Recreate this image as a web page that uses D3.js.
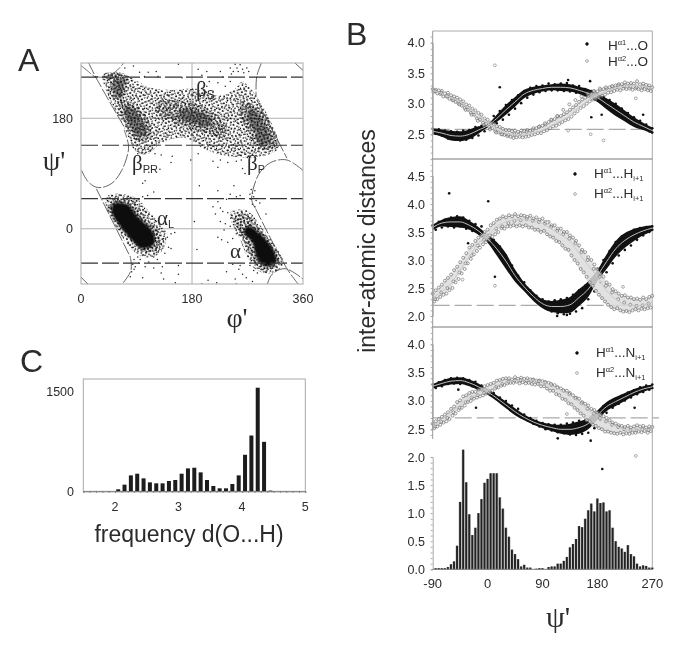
<!DOCTYPE html>
<html><head><meta charset="utf-8">
<script src="https://cdn.jsdelivr.net/npm/d3@7"></script>
<style>
html,body{margin:0;background:#fff}
svg{display:block;filter:blur(.35px)}
text{font-family:"Liberation Sans",Arial,sans-serif;fill:#2b2b2b}
.gr{font-family:"Liberation Serif","DejaVu Serif",serif}
</style></head><body><svg id="c" width="685" height="649"></svg>
<script>
/* ---------- Panel A ---------- */
const ramaTicksX=[0,180,360], ramaTicksY=[0,180], ramaDash=[247,136,49,-56];
const ramaSolid=[
 [[52,40],[74,40],[92,20],[118,-8],[118,-26],[98,-32],[80,-16],[62,6],[50,26]],
 [[270,4],[288,-6],[312,-34],[316,-56],[296,-60],[284,-44],[278,-22],[264,-6]]];
const ramaCore=[
 [[55,243],[70,245],[70,230],[63,214],[53,222]],
 [[272,196],[291,182],[307,140],[291,137],[279,164],[270,178]],
 [[70,200],[85,196],[103,170],[106,155],[93,150],[78,170]],
 [[160,192],[190,192],[212,176],[208,166],[182,172],[160,180]]];
const ramaHigh=[
 [[45,252],[75,250],[72,225],[66,205],[50,215]],
 [[62,208],[90,202],[112,172],[114,150],[92,142],[72,168]],
 [[125,208],[160,208],[190,203],[218,186],[236,165],[228,148],[200,156],[175,163],[150,172],[125,188]],
 [[262,208],[295,190],[318,136],[288,130],[270,160],[258,182]],
 [[50,46],[82,46],[103,18],[128,-8],[124,-34],[104,-38],[84,-22],[60,8],[46,34]],
 [[250,20],[266,24],[295,-8],[322,-54],[309,-66],[285,-60],[268,-26]]];
const ramaLow=[
 [[36,252],[72,250],[112,230],[145,226],[190,228],[225,216],[250,228],[262,240],[285,215],[320,132],[290,118],[240,118],[200,130],[170,148],[130,140],[110,122],[90,125],[70,165],[38,232]],
 [[44,54],[85,52],[112,26],[138,-12],[128,-40],[100,-46],[78,-28],[54,8],[40,38]],
 [[242,26],[268,30],[298,-5],[328,-56],[310,-72],[283,-66],[258,-18]]];
const ramaPoints=[[85,265],[95,255],[109,255],[122,256],[71,262],[158,268],[190,260],[204,256],[226,256],[242,262],[247,256],[258,267],[255,256],[264,254],[272,256],[269,262],[250,268],[244,252],[262,260],[253,262],[103,248],[125,248],[164,246],[196,250],[230,247],
[92,122],[100,124],[96,116],[112,128],[120,122],[130,120],[146,108],[148,118],[128,97],[110,92],[104,78],[100,74],[178,112],[190,122],[214,110],[226,112],[238,108],[252,110],[260,112],[270,116],[222,100],[262,98],[266,90],[226,216],[214,222],[204,232],[195,240],[222,238],[234,232],[242,240],[208,240],
[248,70],[276,64],[278,58],[280,52],[276,48],[282,62],[274,56],[284,46],[278,40],[282,36],[192,70],[222,62],[242,56],[252,52],[258,54],[236,48],[222,44],[226,34],[230,28],[238,26],[214,36],[218,24],[226,12],[234,8],[242,4],[232,-2],[222,-14],[228,-18],[238,-22],[246,-16],[252,-8],[188,-34],[184,12],[290,42],[300,24],[274,-60],[280,-68],[286,-72],[292,-66],[300,-70],[256,-66],[262,-74],[268,-80],[278,-86],[250,-82],[252,-90],[236,-70],[246,-58],[258,-60],[258,16],[256,6],[252,-2],[260,-6],[248,12],[244,18],
[196,-90],[206,-84],[220,-88],[130,-72],[134,-82],[158,-60],[158,-74],[153,-88],[132,-62],[118,-46],[124,-50],[136,-40],[142,-30],[128,-30],[146,-8],[152,-6],[134,-16],[130,-24],[126,-36],[136,-4],[134,8],[128,4],[122,12],[116,16],[110,24],[104,28],[96,30],[94,48],[100,52],[108,54],[118,60],[140,-14],[146,-32],
[92,-46],[86,-50],[84,-58],[88,-62],[94,-56],[96,-50],[82,-70],[86,-66],[100,-80],[80,-78],[104,-62],[110,-54],[118,-64],[88,40],[90,46]];

/* ---------- Panel C ---------- */
const freqBins=[2.05,2.15,2.25,2.35,2.45,2.55,2.65,2.75,2.85,2.95,3.05,3.15,3.25,3.35,3.45,3.55,3.65,3.75,3.85,3.95,4.05,4.15,4.25,4.35,4.45];
const freqValues=[30,100,240,265,195,135,120,120,155,170,265,345,355,285,170,80,45,45,110,240,550,840,1560,745,10];

/* ---------- Panel B: means every 15 deg from -90 ---------- */
const psi15=[-90,-75,-60,-45,-30,-15,0,15,30,45,60,75,90,105,120,135,150,165,180,195,210,225,240,255,270];
const o1Mean=[2.55,2.52,2.48,2.47,2.50,2.57,2.64,2.76,2.90,3.03,3.16,3.22,3.25,3.27,3.27,3.26,3.22,3.17,3.10,3.00,2.90,2.80,2.70,2.63,2.56];
const o1Half=[.05,.06,.08,.08,.08,.06,.03,.06,.08,.08,.07,.06,.05,.05,.06,.06,.06,.07,.07,.09,.1,.09,.08,.06,.05];
const o2Mean=[3.22,3.17,3.10,3.03,2.92,2.82,2.68,2.58,2.52,2.49,2.49,2.52,2.57,2.64,2.72,2.80,2.93,3.05,3.14,3.20,3.26,3.29,3.30,3.29,3.25];
const h1Mean=[3.58,3.66,3.68,3.68,3.62,3.52,3.38,3.20,2.98,2.72,2.52,2.35,2.22,2.17,2.17,2.20,2.33,2.48,2.72,2.97,3.20,3.35,3.45,3.52,3.57];
const h1Half=[.05,.06,.09,.1,.08,.07,.07,.12,.14,.11,.08,.08,.08,.1,.12,.14,.15,.14,.1,.13,.14,.13,.11,.08,.05];
const h2Mean=[2.32,2.43,2.58,2.82,3.06,3.30,3.42,3.60,3.68,3.72,3.72,3.70,3.65,3.55,3.45,3.33,3.12,2.90,2.70,2.45,2.30,2.20,2.18,2.20,2.25];
const n1Mean=[3.26,3.31,3.35,3.36,3.32,3.25,3.16,3.05,2.93,2.81,2.71,2.63,2.57,2.53,2.50,2.50,2.53,2.60,2.75,2.90,2.99,3.07,3.15,3.21,3.25];
const n1Half=[.04,.05,.06,.06,.06,.06,.05,.05,.06,.06,.05,.05,.05,.06,.08,.1,.11,.1,.08,.08,.08,.07,.06,.05,.04];
const n2Mean=[2.55,2.67,2.81,2.93,3.05,3.11,3.17,3.27,3.33,3.36,3.37,3.36,3.33,3.27,3.19,3.10,2.98,2.84,2.73,2.63,2.55,2.50,2.48,2.49,2.49];

/* open-circle clouds: upper/lower edges every 5 deg, middle row every 10 deg */
const o2Up=[3.24,3.23,3.22,3.21,3.17,3.18,3.14,3.12,3.10,3.07,3.04,2.99,2.97,2.92,2.89,2.85,2.82,2.76,2.74,2.69,2.67,2.63,2.62,2.59,2.57,2.57,2.55,2.56,2.54,2.56,2.55,2.57,2.56,2.60,2.60,2.63,2.64,2.66,2.70,2.73,2.75,2.79,2.80,2.83,2.86,2.90,2.94,2.98,3.03,3.07,3.10,3.13,3.17,3.20,3.20,3.23,3.24,3.25,3.27,3.28,3.30,3.32,3.32,3.35,3.33,3.34,3.33,3.37,3.32,3.33,3.31,3.30,3.27];
const o2Lo=[3.20,3.17,3.16,3.12,3.12,3.08,3.06,3.03,3.00,2.97,2.93,2.90,2.85,2.82,2.76,2.74,2.69,2.67,2.62,2.60,2.55,2.53,2.50,2.49,2.47,2.46,2.44,2.45,2.46,2.45,2.46,2.47,2.49,2.50,2.52,2.52,2.55,2.57,2.60,2.63,2.64,2.67,2.70,2.73,2.75,2.79,2.84,2.88,2.93,2.96,3.00,3.04,3.07,3.08,3.11,3.13,3.15,3.18,3.19,3.21,3.23,3.22,3.25,3.24,3.25,3.23,3.25,3.24,3.22,3.24,3.22,3.21,3.22];
const o2Mid=[3.21,3.18,3.12,3.06,2.99,2.90,2.82,2.72,2.65,2.58,2.53,2.50,2.49,2.50,2.52,2.54,2.57,2.62,2.68,2.74,2.80,2.90,2.99,3.06,3.12,3.17,3.21,3.25,3.27,3.29,3.30,3.29,3.28,3.27,3.28,3.26,3.25];
const h2Up=[2.40,2.46,2.51,2.56,2.63,2.68,2.74,2.82,2.88,2.96,3.04,3.12,3.22,3.27,3.34,3.40,3.44,3.50,3.54,3.62,3.66,3.72,3.74,3.78,3.76,3.80,3.78,3.82,3.78,3.80,3.79,3.77,3.79,3.74,3.76,3.72,3.74,3.68,3.68,3.62,3.62,3.56,3.56,3.50,3.50,3.44,3.40,3.34,3.26,3.18,3.14,3.05,3.00,2.92,2.84,2.76,2.70,2.60,2.56,2.48,2.44,2.40,2.36,2.37,2.33,2.33,2.30,2.31,2.29,2.33,2.30,2.34,2.36];
const h2Lo=[2.26,2.30,2.34,2.38,2.40,2.46,2.50,2.60,2.66,2.76,2.84,2.94,3.02,3.10,3.16,3.22,3.28,3.32,3.36,3.42,3.46,3.50,3.57,3.56,3.60,3.60,3.62,3.60,3.62,3.60,3.62,3.58,3.58,3.54,3.54,3.50,3.52,3.46,3.42,3.40,3.34,3.32,3.26,3.20,3.18,3.08,3.00,2.94,2.84,2.78,2.70,2.60,2.54,2.45,2.38,2.32,2.26,2.20,2.16,2.12,2.14,2.10,2.08,2.09,2.07,2.10,2.12,2.10,2.13,2.12,2.14,2.15,2.20];
const h2Mid=[2.30,2.42,2.50,2.62,2.78,2.94,3.08,3.26,3.36,3.44,3.56,3.60,3.66,3.70,3.71,3.73,3.70,3.68,3.65,3.59,3.52,3.46,3.38,3.30,3.14,3.00,2.84,2.70,2.54,2.42,2.30,2.24,2.20,2.18,2.19,2.22,2.25];
const n2Up=[2.60,2.64,2.68,2.72,2.76,2.80,2.86,2.90,2.98,3.01,3.08,3.10,3.14,3.16,3.16,3.20,3.22,3.26,3.28,3.30,3.32,3.36,3.37,3.39,3.40,3.40,3.38,3.42,3.39,3.41,3.39,3.40,3.38,3.38,3.36,3.36,3.35,3.33,3.32,3.28,3.28,3.24,3.22,3.18,3.18,3.14,3.10,3.06,3.04,2.98,2.95,2.92,2.86,2.84,2.80,2.76,2.73,2.70,2.66,2.62,2.60,2.57,2.56,2.54,2.56,2.53,2.55,2.57,2.55,2.56,2.53,2.55,2.54];
const n2Lo=[2.52,2.55,2.58,2.62,2.64,2.68,2.74,2.78,2.84,2.88,2.92,2.98,3.00,3.04,3.06,3.08,3.10,3.13,3.14,3.18,3.22,3.24,3.27,3.28,3.31,3.32,3.32,3.34,3.31,3.33,3.31,3.32,3.30,3.29,3.30,3.26,3.26,3.22,3.18,3.18,3.12,3.10,3.04,3.02,2.96,2.94,2.88,2.84,2.78,2.74,2.66,2.64,2.58,2.56,2.52,2.50,2.46,2.46,2.44,2.43,2.42,2.44,2.41,2.43,2.42,2.44,2.44,2.46,2.45,2.47,2.44,2.47,2.46];
const n2Mid=[2.55,2.63,2.70,2.80,2.88,2.98,3.06,3.10,3.14,3.17,3.25,3.30,3.34,3.36,3.37,3.36,3.37,3.35,3.33,3.30,3.24,3.19,3.12,3.05,2.96,2.86,2.78,2.70,2.64,2.58,2.54,2.50,2.49,2.48,2.50,2.49,2.49];

/* black point edges every 10 deg from -90 */
const o1Up=[2.59,2.58,2.56,2.55,2.54,2.56,2.57,2.62,2.64,2.67,2.80,2.88,2.98,3.06,3.14,3.21,3.26,3.29,3.30,3.33,3.32,3.33,3.34,3.30,3.29,3.24,3.21,3.17,3.11,3.06,3.00,2.92,2.85,2.78,2.72,2.66,2.60];
const o1Lo=[2.51,2.48,2.43,2.42,2.40,2.41,2.44,2.48,2.55,2.62,2.68,2.74,2.82,2.92,3.01,3.10,3.15,3.19,3.21,3.22,3.22,3.21,3.20,3.18,3.17,3.13,3.08,3.03,2.95,2.88,2.81,2.75,2.71,2.63,2.60,2.55,2.53];
const h1Up=[3.62,3.68,3.72,3.76,3.78,3.76,3.70,3.64,3.60,3.45,3.36,3.24,3.08,2.90,2.72,2.60,2.46,2.36,2.30,2.26,2.28,2.30,2.32,2.38,2.46,2.54,2.66,2.84,3.00,3.16,3.32,3.42,3.48,3.54,3.57,3.59,3.60];
const h1Lo=[3.54,3.58,3.60,3.58,3.60,3.56,3.52,3.48,3.40,3.30,3.16,3.02,2.86,2.70,2.56,2.44,2.32,2.24,2.14,2.08,2.05,2.03,2.04,2.08,2.14,2.30,2.44,2.60,2.78,2.94,3.08,3.18,3.26,3.36,3.44,3.50,3.54];
const n1Up=[3.29,3.33,3.37,3.40,3.41,3.40,3.37,3.34,3.27,3.20,3.14,3.06,3.00,2.92,2.86,2.76,2.70,2.65,2.61,2.59,2.58,2.58,2.60,2.62,2.65,2.68,2.72,2.80,2.91,2.98,3.04,3.09,3.15,3.19,3.24,3.27,3.29];
const n1Lo=[3.23,3.26,3.30,3.31,3.30,3.30,3.26,3.20,3.16,3.11,3.03,2.96,2.88,2.79,2.72,2.66,2.60,2.55,2.50,2.48,2.45,2.43,2.41,2.40,2.42,2.44,2.52,2.66,2.79,2.88,2.95,3.01,3.06,3.12,3.16,3.20,3.23];

const o1Out=[[20,3.27],[168,3.37],[170,2.78],[187,2.82],[132,3.39],[255,2.82]];
const o2Out=[[12,3.63],[169,2.5],[190,2.4],[243,3.09],[132,2.56]];
const h1Out=[[-63,4.19],[1,4.05],[12,2.7],[-32,3.3],[114,2.0],[130,2.02]];
const h2Out=[[12,2.54],[-41,2.65],[98,3.67],[222,2.52]];
const n1Out=[[-48,3.2],[-19,2.88],[115,2.34],[169,2.3],[241,2.88],[188,1.8]];
const n2Out=[[243,2.03],[130,2.77]];

/* lower histogram: bins every 5 deg from -85 */
const psiBins=[-85,-80,-75,-70,-65,-60,-55,-50,-45,-40,-35,-30,-25,-20,-15,-10,-5,0,5,10,15,20,25,30,35,40,45,50,55,60,65,70,75,80,85,90,95,100,105,110,115,120,125,130,135,140,145,150,155,160,165,170,175,180,185,190,195,200,205,210,215,220,225,230,235,240,245,250,255,260,265,270];
const psiFreq=[.02,.02,.02,.02,.04,.09,.14,.42,1.2,2.13,1.55,.98,.61,.74,1.0,1.25,1.54,1.61,1.71,1.71,1.71,1.28,1.08,.74,.58,.35,.27,.18,.05,.08,.03,.03,0,.01,.02,.02,0,.04,.05,.05,.1,.1,.15,.22,.39,.45,.54,.77,.75,.9,1.05,1.17,1.03,1.26,1.18,1.19,1.03,1.05,.74,.5,.4,.37,.31,.43,.27,.23,.1,.05,.07,.06,.03,.03];

/* ---------- drawing ---------- */
const svg=d3.select("#c");
const GREY="#a9a9a9";
function box(x0,y0,x1,y1,c=GREY){svg.append("rect").attr("x",x0).attr("y",y0).attr("width",x1-x0).attr("height",y1-y0).attr("fill","none").attr("stroke",c);}
function styleAxis(g,c="#888"){g.selectAll("path").attr("stroke",c);g.selectAll("line").attr("stroke",c);}
function label(t,x,y,s,o={}){const e=svg.append("text").attr("x",x).attr("y",y).attr("font-size",s).attr("text-anchor",o.a||"start").text(t);if(o.cls)e.attr("class",o.cls);return e;}

/* stipple textures and soft edge */
const defs=svg.append("defs");
const tile=[[1,2],[4.3,1],[8,3.4],[11.5,.6],[15,2.2],[19.4,1],[22,3.3],[2.4,5.2],[6,6.5],[10.2,5],[13,7.4],[17.3,4.7],[21,6.2],[.3,8.4],[4,9.3],[8.4,8],[12,10.4],[15.4,9],[19,8.2],[23,9.6],[2,12.4],[6.4,11],[10,13.3],[14.2,12],[18,11.3],[21.3,13],[1,15.2],[5,14.3],[8.2,16.4],[12.4,15],[16,15.6],[20,16.2],[23.2,15],[3.3,18],[7,19.2],[11,18],[14.3,18.4],[18.2,19],[22,19.3]];
[["s0",0],["s1",37],["s2",71],["s3",-52]].forEach(([id,rot])=>{
  const p=defs.append("pattern").attr("id",id).attr("patternUnits","userSpaceOnUse").attr("width",24).attr("height",20).attr("patternTransform",`rotate(${rot})`);
  p.selectAll("circle").data(tile).join("circle").attr("cx",d=>d[0]).attr("cy",d=>d[1]).attr("r",.8).attr("fill","#0a0a0a");
});
defs.append("filter").attr("id","soft").append("feGaussianBlur").attr("stdDeviation",1.1);

/* A */
const ax=d3.scaleLinear().domain([0,360]).range([81,303]);
const ay=d3.scaleLinear().domain([-90,270]).range([284,63]);
svg.append("line").attr("x1",ax(180)).attr("x2",ax(180)).attr("y1",63).attr("y2",284).attr("stroke","#b0b0b0");
ramaTicksY.forEach(v=>svg.append("line").attr("x1",81).attr("x2",303).attr("y1",ay(v)).attr("y2",ay(v)).attr("stroke","#b0b0b0"));
svg.append("clipPath").attr("id","ca").append("rect").attr("x",81).attr("y",63).attr("width",222).attr("height",221);
const gA=svg.append("g").attr("clip-path","url(#ca)");
const poly=d3.line().x(d=>ax(d[0])).y(d=>ay(d[1])).curve(d3.curveCatmullRomClosed);
ramaLow.forEach(r=>gA.append("path").attr("d",poly(r)).attr("fill","url(#s0)"));
ramaLow.forEach(r=>gA.append("path").attr("d",poly(r)).attr("fill","url(#s1)"));
ramaHigh.forEach(r=>["s2","s3"].forEach(s=>gA.append("path").attr("d",poly(r)).attr("fill",`url(#${s})`)));
ramaCore.forEach(r=>gA.append("path").attr("d",poly(r)).attr("fill","#222").attr("opacity",.5).attr("filter","url(#soft)"));
ramaSolid.forEach(r=>gA.append("path").attr("d",poly(r)).attr("fill","#0c0c0c").attr("filter","url(#soft)"));
gA.selectAll("circle").data(ramaPoints).join("circle").attr("cx",d=>ax(d[0])).attr("cy",d=>ay(d[1])).attr("r",.75).attr("fill","#222");
const bounds=[
 [[1,95],[12,76],[28,67],[50,74],[66,95],[76,123],[77,136],[70,161]],
 [[12,271],[25,245],[71,164]],
 [[23,248],[36,247],[55,255],[70,271]],
 [[25,65],[80,-46]],
 [[80,-46],[81,-68],[66,-91]],
 [[0,-79],[12,-91]],
 [[0,266],[12,256],[25,245]],
 [[293,271],[285,248],[284,215]],
 [[285,210],[334,115]],
 [[360,95],[334,112],[310,109],[291,93],[280,68],[277,46],[283,33]],
 [[283,33],[334,-65],[353,-91]],
 [[302,-91],[310,-74],[331,-65],[360,-82]],
 [[346,271],[360,258]]];
const bl=d3.line().x(d=>ax(d[0])).y(d=>ay(d[1])).curve(d3.curveCatmullRom);
gA.selectAll(".b").data(bounds).join("path").attr("class","b").attr("d",bl).attr("fill","none").attr("stroke","#555").attr("stroke-width",.9).attr("stroke-dasharray","13 2");
ramaDash.forEach(v=>svg.append("line").attr("x1",81).attr("x2",303).attr("y1",ay(v)).attr("y2",ay(v)).attr("stroke","#333").attr("stroke-width",1.2).attr("stroke-dasharray","17 4"));
box(81,63,303,284);
ramaTicksX.forEach(v=>label(v,ax(v),303,12.5,{a:"middle"}));
ramaTicksY.forEach(v=>label(v,73,ay(v)+4.5,12.5,{a:"end"}));
label("A",18,71,32);label("B",346,45,32);label("C",20,372,32);
label("ψ'",54,170,28,{a:"middle",cls:"gr"});
label("φ'",237,327,28,{a:"middle",cls:"gr"});
function sub(g,s,x,y,z,z2){const t=label(g,x,y,z,{cls:"gr"});t.append("tspan").attr("font-size",z2).attr("dy",3).attr("style",'font-family:"Liberation Sans"').text(s);}
sub("β","S",196,96,21,12);sub("β","PR",132,170,21,11);sub("β","P",247,170,21,11);sub("α","L",157,225,21,11);
label("α",230,258,21,{cls:"gr"});

/* C */
const cx=d3.scaleLinear().domain([1.5,5]).range([83.3,305.3]);
const cy=d3.scaleLinear().domain([0,1500]).range([491.3,391.7]);
box(83.3,379,305.3,491.3);
svg.append("g").selectAll("rect").data(freqValues).join("rect").attr("x",(d,i)=>cx(freqBins[i])-2).attr("width",4).attr("y",d=>cy(d)).attr("height",d=>cy(0)-cy(d)).attr("fill","#1c1c1c");
styleAxis(svg.append("g").attr("transform","translate(0,491.3)").call(d3.axisBottom(cx).tickValues(d3.range(1.5,5.01,.1)).tickSize(1.5).tickFormat("")),"#777");
[2,3,4,5].forEach(v=>label(v,cx(v),511,12.5,{a:"middle"}));
label("1500",74,396,12.5,{a:"end"});label("0",74,495.5,12.5,{a:"end"});
label("frequency d(O...H)",189,542,23,{a:"middle"});

/* B */
const bx=d3.scaleLinear().domain([-90,270]).range([432.7,652.3]);
const panels=[
 {y:d3.scaleLinear().domain([2.5,4]).range([134.3,42.7]),top:31,bot:159,ticks:[2.5,3,3.5,4],ref:2.58,refEnd:270,
  m1:o1Mean,hw:o1Half,m2:o2Mean,up:o2Up,lo:o2Lo,mid:o2Mid,bu:o1Up,bl:o1Lo,out1:o1Out,out2:o2Out},
 {y:d3.scaleLinear().domain([2,4.5]).range([316,176]),top:159,bot:327,ticks:[2,2.5,3,3.5,4,4.5],ref:2.19,refEnd:270,
  m1:h1Mean,hw:h1Half,m2:h2Mean,up:h2Up,lo:h2Lo,mid:h2Mid,bu:h1Up,bl:h1Lo,out1:h1Out,out2:h2Out},
 {y:d3.scaleLinear().domain([2.5,4]).range([429.3,344.3]),top:327,bot:439,ticks:[2.5,3,3.5,4],ref:2.7,refEnd:281,
  m1:n1Mean,hw:n1Half,m2:n2Mean,up:n2Up,lo:n2Lo,mid:n2Mid,bu:n1Up,bl:n1Lo,out1:n1Out,out2:n2Out}];
const hy=d3.scaleLinear().domain([0,2]).range([569.3,457]);

svg.append("line").attr("x1",432.7).attr("x2",652.3).attr("y1",31).attr("y2",31).attr("stroke",GREY);
svg.append("line").attr("x1",652.3).attr("x2",652.3).attr("y1",31).attr("y2",569.3).attr("stroke",GREY);

const gH=svg.append("g");
gH.selectAll(".bg").data(psiFreq).join("rect").attr("class","bg").attr("x",(d,i)=>bx(psiBins[i])-1.5).attr("width",3).attr("y",d=>hy(d)).attr("height",d=>hy(0)-hy(d)).attr("fill","#b5b5b5");
gH.selectAll(".fg").data(psiFreq).join("rect").attr("class","fg").attr("x",(d,i)=>bx(psiBins[i])-1).attr("width",1.9).attr("y",d=>hy(d)).attr("height",d=>hy(0)-hy(d)).attr("fill","#222");
styleAxis(svg.append("g").attr("transform","translate(432.7,0)").call(d3.axisLeft(hy).tickValues(d3.range(0,2.01,.1)).tickSize(2).tickFormat("")),"#aaa");
[0,.5,1,1.5,2].forEach(v=>label(v.toFixed(1),425,hy(v)+4.5,12.5,{a:"end"}));
[-90,0,90,180,270].forEach(v=>label(v,bx(v),588,13,{a:"middle"}));
svg.append("line").attr("x1",432.7).attr("x2",652.3).attr("y1",569.3).attr("y2",569.3).attr("stroke","#777");

panels.forEach((p,k)=>{
  const g=svg.append("g");
  const line=d3.line().x((d,i)=>bx(psi15[i])).y(d=>p.y(d)).curve(d3.curveMonotoneX);
  g.append("line").attr("x1",bx(-90)).attr("x2",bx(p.refEnd)).attr("y1",p.y(p.ref)).attr("y2",p.y(p.ref)).attr("stroke","#aaa").attr("stroke-width",1.2).attr("stroke-dasharray","17 5");
  const area=d3.area().x((d,i)=>bx(psi15[i])).y0((d,i)=>p.y(d-p.hw[i])).y1((d,i)=>p.y(d+p.hw[i])).curve(d3.curveMonotoneX);
  g.append("path").attr("d",area(p.m1)).attr("fill","#111");
  [[p.bu,0],[p.bl,5]].forEach(([vals,off],ri)=>{
    g.selectAll(".bd"+ri).data(vals).join("circle").attr("class","bd"+ri).attr("cx",(d,i)=>bx(Math.min(270,-90+off+10*i))).attr("cy",d=>p.y(d)).attr("r",1.3).attr("fill","#111");
  });
  g.selectAll(".bo").data(p.out1).join("circle").attr("class","bo").attr("cx",d=>bx(d[0])).attr("cy",d=>p.y(d[1])).attr("r",1.3).attr("fill","#111");
  const cloud=d3.area().x((d,i)=>bx(-90+5*i)).y0((d,i)=>p.y(p.lo[i])).y1((d,i)=>p.y(d)).curve(d3.curveMonotoneX);
  g.append("path").attr("d",cloud(p.up)).attr("fill","#dcdcdc").attr("opacity",.85);
  [[p.up,5,0],[p.lo,5,2.5],[p.mid,10,4]].forEach(([vals,step,off],ri)=>{
    const pts=vals.map((v,i)=>[-90+off+step*i,v]).filter(d=>d[0]<=270);
    g.selectAll(".r"+ri).data(pts).join("circle").attr("class","r"+ri).attr("cx",d=>bx(d[0])).attr("cy",d=>p.y(d[1])).attr("r",1.5).attr("fill","#f4f4f4").attr("fill-opacity",.4).attr("stroke","#5e5e5e").attr("stroke-width",.6);
  });
  g.selectAll(".oo").data(p.out2).join("circle").attr("class","oo").attr("cx",d=>bx(d[0])).attr("cy",d=>p.y(d[1])).attr("r",1.4).attr("fill","#fff").attr("stroke","#777").attr("stroke-width",.6);
  g.append("path").attr("d",line(p.m1)).attr("fill","none").attr("stroke","#bdbdbd").attr("stroke-width",1);
  g.append("path").attr("d",line(p.m2)).attr("fill","none").attr("stroke","#c9c9c9").attr("stroke-width",1);
  const dom=[p.y.invert(p.bot),p.y.invert(p.top)];
  const minor=d3.range(Math.ceil(dom[0]*10)/10,dom[1],.1);
  styleAxis(svg.append("g").attr("transform","translate(432.7,0)").call(d3.axisLeft(p.y).tickValues(minor).tickSize(2).tickFormat("")),"#aaa");
  svg.append("line").attr("x1",432.7).attr("x2",432.7).attr("y1",p.top).attr("y2",p.bot).attr("stroke","#999");
  p.ticks.forEach(v=>label(v.toFixed(1),425,p.y(v)+4.5,12.5,{a:"end"}));
  if(k<2)svg.append("line").attr("x1",432.7).attr("x2",652.3).attr("y1",p.bot).attr("y2",p.bot).attr("stroke","#777");
});

function lgTitle(x,y,n,tail,sub2){
  const t=svg.append("text").attr("x",x).attr("y",y).attr("font-size",13.5);
  t.append("tspan").text("H");
  t.append("tspan").attr("font-size",7.5).attr("dy",-5.5).text("α"+n);
  t.append("tspan").attr("dy",5.5).text("..."+tail);
  if(sub2)t.append("tspan").attr("font-size",7.5).attr("dy",2.5).text(sub2);
}
const leg=[[587,44,608,50,1,"O",null,true],[587,61,608,66,2,"O",null,false],
 [575,174,594,178,1,"H","i+1",true],[575,194,594,198,2,"H","i+1",false],
 [577,353,596,357,1,"N","i+1",true],[577,373,596,377,2,"N","i+1",false]];
leg.forEach(l=>{
  svg.append("circle").attr("cx",l[0]).attr("cy",l[1]).attr("r",1.4).attr("fill",l[7]?"#111":"#fff").attr("stroke",l[7]?"#111":"#777").attr("stroke-width",.6);
  lgTitle(l[2],l[3],l[4],l[5],l[6]);
});
svg.append("text").attr("transform","translate(375,241) rotate(-90)").attr("text-anchor","middle").attr("font-size",23).text("inter-atomic distances");
label("ψ'",558,627,30,{a:"middle",cls:"gr"});
</script></body></html>
